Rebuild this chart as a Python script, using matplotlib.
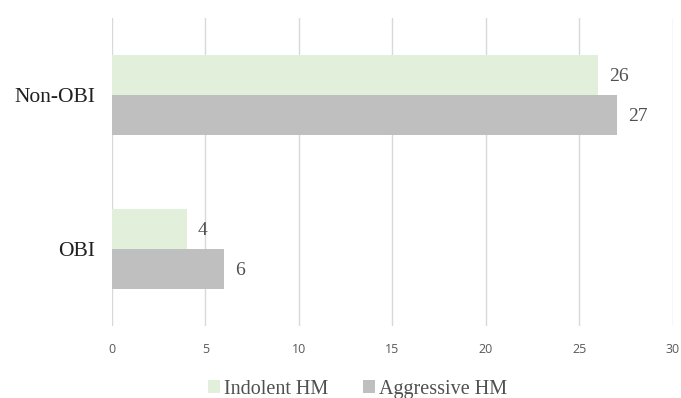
import matplotlib
matplotlib.use('Agg')
import matplotlib.pyplot as plt
import numpy as np

categories = ['OBI', 'Non-OBI']
indolent = [4, 26]
aggressive = [6, 27]
series_names = ['Indolent HM', 'Aggressive HM']
xticks = [0, 5, 10, 15, 20, 25, 30]

green = '#E2EFDA'
grey = '#BFBFBF'

fig = plt.figure(figsize=(6.81, 3.98), dpi=100)
ax = fig.add_axes([0.1645, 0.181, 0.8235, 0.774])

y = np.arange(len(categories))
h = 0.26
b1 = ax.barh(y + h / 2, indolent, height=h, color=green, label=series_names[0], zorder=2)
b2 = ax.barh(y - h / 2, aggressive, height=h, color=grey, label=series_names[1], zorder=2)

for bars, vals in [(b1, indolent), (b2, aggressive)]:
    for bar, v in zip(bars, vals):
        ax.annotate(str(v), (bar.get_width(), bar.get_y() + bar.get_height() / 2),
                    xytext=(8, -1), textcoords='offset points', va='center', ha='left',
                    fontsize=14, color='#505050', family='Liberation Serif')

ax.set_xlim(0, 30)
ax.set_ylim(-0.5, 1.5)
ax.set_xticks(xticks)
ax.set_xticklabels([str(t) for t in xticks], fontsize=9, color='#595959', family='Open Sans')
ax.set_yticks(y)
ax.set_yticklabels(categories, fontsize=15.5, color='#202020', family='Liberation Serif')
ax.tick_params(axis='both', length=0)
ax.tick_params(axis='x', pad=12)
ax.tick_params(axis='y', pad=12)
ax.grid(axis='x', color='#D9D9D9', linewidth=1, zorder=0)
for s in ax.spines.values():
    s.set_visible(False)

fig.legend(handles=[b1, b2], loc='center', bbox_to_anchor=(0.525, 0.022), ncol=2,
           frameon=False, prop={'family': 'Liberation Serif', 'size': 14.5},
           handlelength=0.6, handleheight=0.6, handletextpad=0.2, columnspacing=1.7,
           labelcolor='#505050')

fig.savefig('out.png', dpi=100)
